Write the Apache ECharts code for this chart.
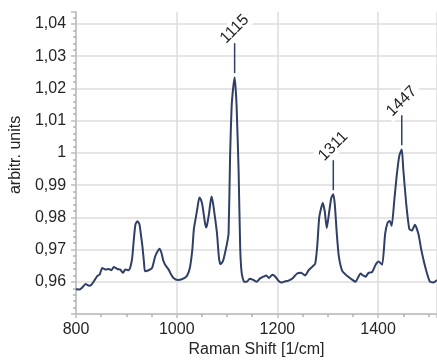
<!DOCTYPE html>
<html>
<head>
<meta charset="utf-8">
<script src="https://cdn.jsdelivr.net/npm/echarts@6/dist/echarts.min.js"></script>
<style>
html,body{margin:0;padding:0;background:#fff;}
#chart{width:437px;height:363px;}
</style>
</head>
<body>
<div id="chart"></div>
<script>
// Raman shift (1/cm)
const ramanShift = [800,806,812,819,826,831,836,842,847,852,856,859,865,870,875,882,888,893,898,905,911,915,918,922,926,929,932,935,937,944,951,957,962,966,970,973,977,984,988,993,1002,1010,1020,1026,1031,1034,1038,1041,1045,1048,1051,1055,1058,1060,1064,1069,1072,1076,1080,1084,1087,1092,1096,1100,1103,1106,1109,1112,1115,1117,1119,1123,1126,1129,1134,1139,1145,1152,1159,1165,1172,1178,1183,1190,1196,1203,1209,1216,1222,1231,1239,1247,1255,1262,1270,1275,1279,1283,1287,1290,1294,1298,1303,1307,1311,1314,1318,1322,1329,1339,1349,1355,1360,1365,1370,1375,1381,1388,1395,1401,1408,1414,1419,1423,1427,1432,1437,1442,1447,1450,1456,1462,1467,1473,1480,1486,1495,1503,1510,1517];
// Intensity (arbitr. units)
const intensity = [0.9578,0.9576,0.9582,0.9593,0.9588,0.9592,0.9603,0.9618,0.9623,0.9643,0.9640,0.9638,0.9640,0.9636,0.9646,0.9640,0.9638,0.9628,0.9638,0.9636,0.9668,0.9735,0.9778,0.9788,0.9778,0.9745,0.9708,0.9660,0.9633,0.9636,0.9643,0.9678,0.9695,0.9703,0.9688,0.9668,0.9653,0.9638,0.9625,0.9613,0.9606,0.9608,0.9618,0.9643,0.9700,0.9763,0.9800,0.9828,0.9862,0.9855,0.9838,0.9795,0.9769,0.9775,0.9810,0.9865,0.9845,0.9800,0.9750,0.9673,0.9655,0.9665,0.9690,0.9720,0.9750,0.9990,1.0142,1.0200,1.0235,1.0200,1.0142,0.9940,0.9709,0.9628,0.9600,0.9600,0.9610,0.9606,0.9600,0.9610,0.9616,0.9620,0.9612,0.9622,0.9616,0.9602,0.9598,0.9602,0.9604,0.9612,0.9626,0.9628,0.9620,0.9636,0.9648,0.9656,0.9709,0.9799,0.9830,0.9845,0.9819,0.9767,0.9819,0.9860,0.9872,0.9840,0.9749,0.9679,0.9633,0.9618,0.9606,0.9600,0.9613,0.9626,0.9620,0.9616,0.9628,0.9630,0.9653,0.9663,0.9653,0.9749,0.9784,0.9789,0.9774,0.9850,0.9930,0.9990,1.0011,0.9950,0.9840,0.9764,0.9759,0.9777,0.9749,0.9698,0.9638,0.9600,0.9598,0.9606];
// Labelled peaks
const peakShift = [1115, 1311, 1447];
const peakValue = [1.0235, 0.9872, 1.0011];
const peakLabel = ['1115', '1311', '1447'];

const lineColor = '#2f3f66';
const textColor = '#262626';
const chart = echarts.init(document.getElementById('chart'), null, {renderer: 'canvas'});
const seriesData = ramanShift.map((x, i) => [x, intensity[i]]);
const yMin = 0.95, yMax = 1.0438;

chart.setOption({
  animation: false,
  backgroundColor: '#fff',
  grid: {left: 72.6, right: 0, top: 11.7, bottom: 41.3, containLabel: false},
  xAxis: {
    type: 'value', min: 800, max: 1517, interval: 200,
    name: 'Raman Shift [1/cm]', nameLocation: 'middle', nameGap: 14,
    nameTextStyle: {fontFamily: 'Liberation Sans', fontSize: 16, color: textColor},
    axisLine: {show: true, lineStyle: {color: '#bdbdbd', width: 1.5}},
    axisTick: {show: true, length: 4, lineStyle: {color: '#bdbdbd', width: 1.5}},
    minorTick: {show: true, splitNumber: 4, length: 3, lineStyle: {color: '#b0b0b0', width: 1.5}},
    splitLine: {show: true, lineStyle: {color: '#dcdcdc', width: 1.5}},
    axisLabel: {
      fontFamily: 'Liberation Sans', fontSize: 16, color: textColor, margin: 7, showMaxLabel: false,
      formatter: function (v) { return v > 1500 ? '' : String(v); }
    }
  },
  yAxis: {
    type: 'value', min: yMin, max: yMax, interval: 0.01,
    name: 'arbitr. units', nameLocation: 'middle', nameGap: 50,
    nameTextStyle: {fontFamily: 'Liberation Sans', fontSize: 16, color: textColor, padding: [0, 0, 0, 16]},
    axisLine: {show: true, lineStyle: {color: '#bdbdbd', width: 1.5}},
    axisTick: {show: true, length: 5, lineStyle: {color: '#bdbdbd', width: 1.5}},
    minorTick: {show: true, splitNumber: 5, length: 3, lineStyle: {color: '#b0b0b0', width: 1.5}},
    splitLine: {show: true, showMaxLine: false, lineStyle: {color: '#dcdcdc', width: 1.5}},
    axisLabel: {
      fontFamily: 'Liberation Sans', fontSize: 16, color: textColor, margin: 10,
      showMaxLabel: false,
      formatter: function (v) {
        if (v < 0.955 || v > 1.041) return '';
        return String(Number(v.toFixed(2))).replace('.', ',');
      }
    }
  },
  series: [{
    type: 'line',
    data: seriesData,
    showSymbol: false,
    smooth: 0.2,
    lineStyle: {color: lineColor, width: 2},
    itemStyle: {color: lineColor},
    markPoint: {
      symbol: 'rect',
      symbolSize: [1.5, 30],
      symbolOffset: [0, -19],
      itemStyle: {color: lineColor},
      label: {
        show: true, position: 'top', distance: 14,
        align: 'center', verticalAlign: 'middle', rotate: 45,
        fontFamily: 'Liberation Sans', fontSize: 16, color: textColor,
        backgroundColor: '#fff', padding: [1, 3],
        formatter: function (p) { return p.name; }
      },
      data: peakShift.map((x, i) => ({name: peakLabel[i], coord: [x, peakValue[i]]}))
    }
  }]
});
</script>
</body>
</html>
